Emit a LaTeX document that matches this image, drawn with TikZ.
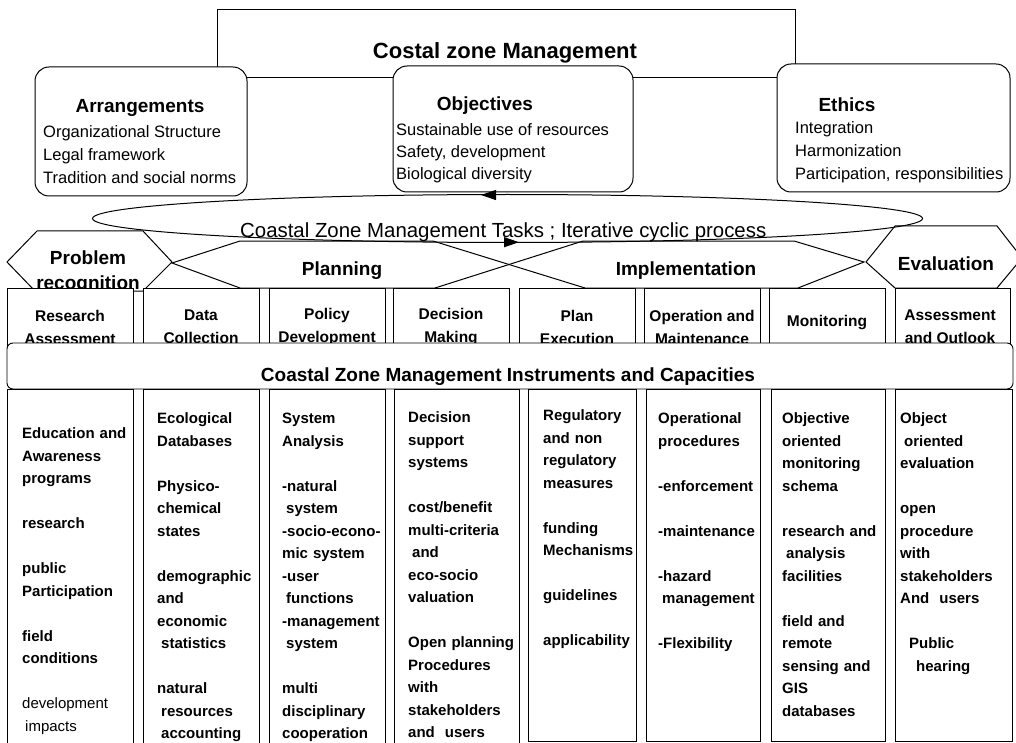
\documentclass[tikz,border=0pt]{standalone}
\usepackage{fontspec}
\setmainfont{Liberation Sans}
\usetikzlibrary{arrows.meta}
\begin{document}
\begin{tikzpicture}[x=1pt,y=-1pt,
  line/.style={draw=black, line width=1pt},
  rbox/.style={draw=black, line width=1pt, fill=white, rounded corners=14pt},
  boxtitle/.style={font=\fontsize{19}{22}\selectfont\bfseries, inner sep=0pt},
  boxline/.style={font=\fontsize{16.5}{22}\selectfont, inner sep=0pt, anchor=base west},
  hexlabel/.style={font=\fontsize{19}{23}\selectfont\bfseries, inner sep=0pt},
  colbox/.style={draw=black, line width=0.9pt, fill=white},
  head/.style={font=\fontsize{15.5}{23}\selectfont\bfseries, align=center, inner sep=0pt},
  coltext/.style={font=\fontsize{15}{22.5}\selectfont\bfseries, align=left, anchor=base west, inner sep=0pt, text width=130pt},
  tip/.style={-{Triangle[length=15pt,width=10pt]}, line width=1pt},
]
\useasboundingbox (0,0) rectangle (1016,743);
\clip (0,0) rectangle (1016,743);

% cyclic process ellipse
\draw[line] (507.5,218.5) ellipse [x radius=415, y radius=24];

% top frame
\draw[line] (217,10) rectangle (795,78);
\node[font=\fontsize{22}{26}\selectfont\bfseries, anchor=base, inner sep=0pt] (title) at (505,59) {Costal zone Management};

% three rounded boxes
\draw[rbox] (35,67) rectangle (247,196);
\draw[rbox] (393,66) rectangle (633,192);
\draw[rbox] (777,64) rectangle (1010,192);

\node[boxtitle] (arr) at (140,108) {Arrangements};
\node[boxline] (arr1) at (43,138) {Organizational Structure};
\node[boxline] (arr2) at (43,161) {Legal framework};
\node[boxline] (arr3) at (43,184) {Tradition and social norms};

\node[boxtitle] (obj) at (485,106) {Objectives};
\node[boxline] (obj1) at (396,136) {Sustainable use of resources};
\node[boxline] (obj2) at (396,158) {Safety, development};
\node[boxline] (obj3) at (396,180) {Biological diversity};

\node[boxtitle] (eth) at (847,105) {Ethics};
\node[boxline] (eth1) at (795,134) {Integration};
\node[boxline] (eth2) at (795,157) {Harmonization};
\node[boxline] (eth3) at (795,180) {Participation, responsibilities};

% arrows on the ellipse
\coordinate (ta) at (502,195);
\coordinate (tb) at (481,195);
\coordinate (ba) at (497,242.2);
\coordinate (bb) at (519,242.2);
\draw[tip] (ta) -- (tb);
\draw[tip] (ba) -- (bb);

% hexagons
\draw[line] (37,231) -- (143,231) -- (172,262) -- (143,291) -- (35,291) -- (7,262) -- cycle;
\draw[line] (433,241) -- (240,241) -- (172,263) -- (240,288) -- (435,288);
\draw[line] (433,241) -- (585,288);
\draw[line] (435,288) -- (583,241);
\draw[line] (583,241) -- (794,241) -- (864,262) -- (798,288) -- (585,288);
\draw[line] (895,226) -- (997,226) -- (1022,258) -- (997,288) -- (895,288) -- (866,262) -- cycle;

\node[hexlabel] (prob) at (88,258) {Problem};
\node[hexlabel] (reco) at (88,285) {recognition};
\node[hexlabel] (plan) at (342,271) {Planning};
\node[hexlabel] (impl) at (686,271) {Implementation};
\node[hexlabel] (eval) at (946,264) {Evaluation};

\node[font=\fontsize{20.4}{24}\selectfont, anchor=base west, inner sep=0pt] (tasks) at (240,237) {Coastal Zone Management Tasks ; Iterative cyclic process};

% header boxes
\draw[colbox] (7,288) rectangle (133,350);
\draw[colbox] (143,288) rectangle (259,350);
\draw[colbox] (269,288) rectangle (385,350);
\draw[colbox] (393,288) rectangle (509,350);
\draw[colbox] (519,288) rectangle (635,350);
\draw[colbox] (644,288) rectangle (760,350);
\draw[colbox] (769,288) rectangle (885,350);
\draw[colbox] (895,288) rectangle (1010,350);

\node[head] (h1) at (70,327) {Research\\Assessment};
\node[head] (h2) at (201,327) {Data\\Collection};
\node[head] (h3) at (327,327) {Policy\\Development};
\node[head] (h4) at (451,327) {Decision\\Making};
\node[head] (h5) at (577,327) {Plan\\Execution};
\node[head] (h6) at (702,327) {Operation and\\Maintenance};
\node[head] (h7) at (827,323) {Monitoring};
\node[head] (h8) at (950,327) {Assessment\\and Outlook};

% instruments bar
\draw[colbox, rounded corners=6pt] (7,343) rectangle (1013,389);
\node[font=\fontsize{19}{22}\selectfont\bfseries, anchor=base, inner sep=0pt] (instr) at (508,381) {Coastal Zone Management Instruments and Capacities};

% lower columns
\draw[colbox] (7,389) rectangle (133,760);
\draw[colbox] (143,389) rectangle (259,760);
\draw[colbox] (269,389) rectangle (385,760);
\draw[colbox] (394,389) rectangle (519,760);
\draw[colbox] (528,389) rectangle (636,741);
\draw[colbox] (646,389) rectangle (760,741);
\draw[colbox] (771,389) rectangle (885,741);
\draw[colbox] (895,389) rectangle (1012,741);

\node[coltext] (c1) at (22,438.5) {Education and\\
Awareness\\
programs\\[22.5pt]
research\\[22.5pt]
public\\
Participation\\[22.5pt]
field\\
conditions\\[22.5pt]
{\mdseries development}\\
\hspace*{3pt}{\mdseries impacts}};

\node[coltext] (c2) at (157,423.5) {Ecological\\
Databases\\[22.5pt]
Physico-\\
chemical\\
states\\[22.5pt]
demographic\\
and\\
economic\\
\hspace*{4pt}statistics\\[22.5pt]
natural\\
\hspace*{4pt}resources\\
\hspace*{4pt}accounting};

\node[coltext] (c3) at (282,423.5) {System\\
Analysis\\[22.5pt]
-natural\\
\hspace*{4pt}system\\
-socio-econo-\\
mic system\\
-user\\
\hspace*{4pt}functions\\
-management\\
\hspace*{4pt}system\\[22.5pt]
multi\\
disciplinary\\
cooperation};

\node[coltext] (c4) at (408,422.5) {Decision\\
support\\
systems\\[22.5pt]
cost/benefit\\
multi-criteria\\
\hspace*{4pt}and\\
eco-socio\\
valuation\\[22.5pt]
Open planning\\
Procedures\\
with\\
stakeholders\\
and\ \ users};

\node[coltext] (c5) at (543,420.5) {Regulatory\\
and non\\
regulatory\\
measures\\[22.5pt]
funding\\
Mechanisms\\[22.5pt]
guidelines\\[22.5pt]
applicability};

\node[coltext] (c6) at (658,423.5) {Operational\\
procedures\\[22.5pt]
-enforcement\\[22.5pt]
-maintenance\\[22.5pt]
-hazard\\
\hspace*{4pt}management\\[22.5pt]
-Flexibility};

\node[coltext] (c7) at (782,423.5) {Objective\\
oriented\\
monitoring\\
schema\\[22.5pt]
research and\\
\hspace*{4pt}analysis\\
facilities\\[22.5pt]
field and\\
remote\\
sensing and\\
GIS\\
databases};

\node[coltext] (c8) at (900,423.5) {Object\\
\hspace*{4pt}oriented\\
evaluation\\[22.5pt]
open\\
procedure\\
with\\
stakeholders\\
And\ \ users\\[22.5pt]
\hspace*{9pt}Public\\
\hspace*{16pt}hearing};
\end{tikzpicture}
\end{document}
